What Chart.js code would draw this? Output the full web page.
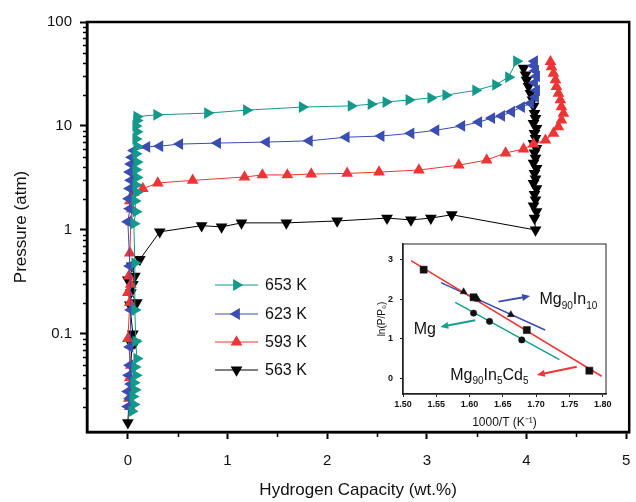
<!DOCTYPE html>
<html>
<head>
<meta charset="utf-8">
<script src="https://cdn.jsdelivr.net/npm/chart.js@4.4.1/dist/chart.umd.min.js"></script>
<style>
body { margin: 0; background: #fff; }
#wrap { position: relative; width: 636px; height: 502px; }
#main { position: absolute; left: 0; top: 0; }
#inset { position: absolute; left: 370px; top: 234px; }
</style>
</head>
<body>
<div id="wrap">
  <canvas id="main" width="636" height="502"></canvas>
  <canvas id="inset" width="245" height="202"></canvas>
</div>
<script>
// ---- main PCT curves ----
var seriesNames = ["653 K", "623 K", "593 K", "563 K"];
var colors = ["#12998a", "#3a4db0", "#ee3434", "#000000"];
var rotations = [90, -90, 0, 180];

var cap653 = [0.04,0.06,0.05,0.07,0.06,0.08,0.07,0.09,0.08,0.07,0.07,0.06,0.08,0.07,0.09,0.08,0.09,0.08,0.09,0.08,0.09,0.08,0.09,0.08,0.09,0.09,
              0.29,0.80,1.19,1.75,2.24,2.44,2.59,2.82,3.04,3.19,3.49,3.69,3.82,3.90];
var p653 = [0.018,0.021,0.025,0.029,0.034,0.04,0.048,0.058,0.085,0.17,0.48,1.15,1.5,1.9,2.3,2.7,3.2,3.8,4.5,5.4,6.4,7.5,8.8,10,11.3,12.3,
            12.8,13.3,14.2,15.2,15.6,16.2,17.0,17.8,18.6,19.8,22.0,24.9,29.5,42];

var cap623 = [0.0,0.02,0.0,0.03,0.01,0.02,0.02,0.03,0.02,0.0,0.02,0.01,0.02,0.03,0.02,0.03,0.04,0.06,
              0.19,0.32,0.52,0.90,1.39,1.82,2.19,2.54,2.84,3.09,3.35,3.52,3.65,3.75,3.85,3.95,4.04,
              4.09,4.10,4.08,4.10,4.09,4.07,4.08];
var p623 = [0.02,0.024,0.028,0.033,0.04,0.05,0.075,0.17,0.45,1.2,1.6,2.0,2.5,3.0,3.6,4.3,5.0,5.8,
            6.3,6.4,6.7,6.85,7.0,7.2,7.8,8.0,8.5,9.1,10.0,10.9,11.9,12.5,13.7,15.2,16.5,
            19,22,26,30,34,38,42];

var cap593 = [0.02,0.01,0.03,0.02,0.03,0.0,0.02,0.0,0.03,0.01,0.02,0.03,0.04,0.02,0.06,
              0.15,0.30,0.65,1.17,1.35,1.60,1.84,2.20,2.52,2.92,3.32,3.60,3.79,3.97,4.07,
              4.19,4.27,4.32,4.35,4.37,4.35,4.34,4.32,4.30,4.29,4.27,4.25,4.24];
var p593 = [0.02,0.024,0.03,0.038,0.05,0.09,0.2,0.25,0.3,0.36,0.6,1.2,1.6,1.9,2.3,
            2.5,2.83,3.0,3.23,3.38,3.38,3.45,3.5,3.6,3.77,4.2,4.7,5.5,6.0,6.7,
            7.3,8.5,9.8,11.4,13.2,15.3,17.8,20.6,23.9,27.7,32,37,41.5];

var cap563 = [0.0,0.04,0.07,0.05,0.02,0.09,0.03,0.05,0.0,0.07,0.04,0.12,
              0.32,0.74,0.94,1.14,1.59,2.10,2.60,2.84,3.04,3.25,4.09,
              4.08,4.10,4.07,4.09,4.08,4.10,4.07,4.09,4.08,4.10,4.07,4.09,4.08,4.10,4.07,4.09,4.08,4.10,4.07,4.09,4.08,4.07,4.06,4.04,4.02,4.0,3.99,3.97];
var p563 = [0.014,0.078,0.082,0.1,0.19,0.2,0.25,0.3,0.33,0.36,0.45,0.52,
            0.96,1.1,1.07,1.17,1.17,1.22,1.3,1.25,1.3,1.4,1.0,
            1.3,1.5,1.7,1.95,2.2,2.5,2.8,3.1,3.5,3.9,4.4,4.9,5.5,6.1,6.8,7.6,8.5,9.5,10.6,11.8,13.2,15.5,17.8,20.6,24,27.6,31,36];

var xTickLabels = [0, 1, 2, 3, 4, 5];
var yTickValues = [0.1, 1, 10, 100];

// ---- inset: ln(P/P0) vs 1000/T ----
var cdX = [1.531, 1.606, 1.686, 1.78];
var cdY = [2.75, 2.05, 1.22, 0.19];
var inX = [1.591, 1.612, 1.662];
var inY = [2.19, 2.0, 1.61];
var mgX = [1.606, 1.63, 1.6785];
var mgY = [1.65, 1.44, 0.97];
var cdFitX = [1.512, 1.7985], cdFitY = [2.98, 0.05];
var inFitX = [1.557, 1.7135], inFitY = [2.42, 1.22];
var mgFitX = [1.5785, 1.735], mgFitY = [1.92, 0.47];
var insetXTicks = [1.50, 1.55, 1.60, 1.65, 1.70, 1.75, 1.80];
var insetYTicks = [0, 1, 2, 3];

var FONT = "'Liberation Sans', Arial, sans-serif";

function pairs(xs, ys) {
    var out = [];
    for (var i = 0; i < xs.length; i++) out.push({x: xs[i], y: ys[i]});
    return out;
}
// keep the plot area where it was asked to be (no extra room for end labels)
function noPad(s) { s.paddingLeft = 0; s.paddingRight = 0; s.paddingTop = 0; s.paddingBottom = 0; }

var mainData = [pairs(cap653, p653), pairs(cap623, p623), pairs(cap593, p593), pairs(cap563, p563)];
var datasets = [];
for (var i = 0; i < mainData.length; i++) {
    datasets.push({
        label: seriesNames[i],
        data: mainData[i],
        showLine: true,
        borderColor: colors[i],
        backgroundColor: colors[i],
        borderWidth: 1,
        pointStyle: 'triangle',
        pointRotation: rotations[i],
        pointRadius: 6.8,
        pointBorderWidth: 0,
        tension: 0,
        clip: false
    });
}

var mainDecor = {
    id: 'mainDecor',
    afterDraw: function(chart) {
        var ctx = chart.ctx, a = chart.chartArea;
        var xs = chart.scales.x, ys = chart.scales.y;
        ctx.save();
        // minor ticks
        ctx.strokeStyle = '#000';
        ctx.lineWidth = 1.5;
        ctx.beginPath();
        [0.01, 0.1, 1, 10].forEach(function(d) {
            for (var m = 2; m <= 9; m++) {
                var v = m * d;
                if (v < ys.min || v > ys.max) continue;
                var py = Math.round(ys.getPixelForValue(v)) + 0.5;
                ctx.moveTo(a.left - 4, py); ctx.lineTo(a.left, py);
            }
        });
        [0.5, 1.5, 2.5, 3.5, 4.5].forEach(function(v) {
            var px = Math.round(xs.getPixelForValue(v)) + 0.5;
            ctx.moveTo(px, a.bottom); ctx.lineTo(px, a.bottom + 5);
        });
        ctx.stroke();
        // frame
        ctx.lineWidth = 2.5;
        ctx.strokeRect(a.left, a.top, a.right - a.left, a.bottom - a.top);
        // legend
        var ly = [285, 314, 342, 370];
        ctx.font = '16px ' + FONT;
        ctx.textBaseline = 'middle';
        ctx.textAlign = 'left';
        for (var i = 0; i < seriesNames.length; i++) {
            ctx.strokeStyle = colors[i];
            ctx.lineWidth = 1;
            ctx.beginPath();
            ctx.moveTo(215, ly[i]); ctx.lineTo(258, ly[i]);
            ctx.stroke();
            ctx.fillStyle = colors[i];
            Chart.helpers.drawPoint(ctx, {pointStyle: 'triangle', rotation: rotations[i], radius: 6.8, borderWidth: 0}, 236.5, ly[i]);
            ctx.fillStyle = '#111';
            ctx.fillText(seriesNames[i], 265, ly[i] + 1);
        }
        ctx.restore();
    }
};

new Chart(document.getElementById('main'), {
    type: 'scatter',
    data: {datasets: datasets},
    plugins: [mainDecor],
    options: {
        responsive: false,
        animation: false,
        events: [],
        layout: {padding: {top: 22, right: 4, left: 0, bottom: 0}},
        plugins: {legend: {display: false}, tooltip: {enabled: false}},
        scales: {
            x: {
                type: 'linear', min: -0.41, max: 5.03,
                afterFit: function(s) { s.height = 70; noPad(s); },
                afterBuildTicks: function(s) { s.ticks = xTickLabels.map(function(v) { return {value: v}; }); },
                ticks: {color: '#111', padding: 13, maxRotation: 0, font: {family: FONT, size: 15}},
                grid: {drawOnChartArea: false, tickLength: 7, tickWidth: 2, tickColor: '#000'},
                border: {color: '#000', width: 2.5},
                title: {display: true, text: 'Hydrogen Capacity (wt.%)', color: '#111',
                        font: {family: FONT, size: 17}, padding: {top: 0, bottom: 1}}
            },
            y: {
                type: 'logarithmic', min: 0.0114, max: 100,
                afterFit: function(s) { s.width = 87; noPad(s); },
                afterBuildTicks: function(s) { s.ticks = yTickValues.map(function(v) { return {value: v}; }); },
                ticks: {color: '#111', padding: 8, font: {family: FONT, size: 15},
                        callback: function(v) { return String(v); }},
                grid: {drawOnChartArea: false, tickLength: 7, tickWidth: 2, tickColor: '#000'},
                border: {color: '#000', width: 2.5},
                title: {display: true, text: 'Pressure (atm)', color: '#111',
                        font: {family: FONT, size: 17}, padding: {top: 11, bottom: 0}}
            }
        }
    }
});

// ---- inset ----
var arrows = [
    {from: [1.6435, 1.94], to: [1.691, 2.08], color: '#3a4db0'},
    {from: [1.6085, 1.47], to: [1.556, 1.30], color: '#16a08c'},
    {from: [1.761, 0.29], to: [1.701, 0.08], color: '#ee3434'}
];
var labels = [
    {at: [1.516, 1.22], parts: [['Mg', 0]]},
    {at: [1.705, 1.98], parts: [['Mg', 0], ['90', 1], ['In', 0], ['10', 1]]},
    {at: [1.571, 0.07], parts: [['Mg', 0], ['90', 1], ['In', 0], ['5', 1], ['Cd', 0], ['5', 1]]}
];

var insetDecor = {
    id: 'insetDecor',
    afterDraw: function(chart) {
        var ctx = chart.ctx, a = chart.chartArea;
        var xs = chart.scales.x, ys = chart.scales.y;
        ctx.save();
        ctx.strokeStyle = '#222';
        ctx.lineWidth = 1;
        ctx.strokeRect(a.left, a.top, a.right - a.left, a.bottom - a.top);
        arrows.forEach(function(ar) {
            var x0 = xs.getPixelForValue(ar.from[0]), y0 = ys.getPixelForValue(ar.from[1]);
            var x1 = xs.getPixelForValue(ar.to[0]), y1 = ys.getPixelForValue(ar.to[1]);
            var ang = Math.atan2(y1 - y0, x1 - x0);
            ctx.strokeStyle = ar.color;
            ctx.fillStyle = ar.color;
            ctx.lineWidth = 2;
            ctx.beginPath();
            ctx.moveTo(x0, y0);
            ctx.lineTo(x1 - 5 * Math.cos(ang), y1 - 5 * Math.sin(ang));
            ctx.stroke();
            ctx.beginPath();
            ctx.moveTo(x1, y1);
            ctx.lineTo(x1 - 8 * Math.cos(ang) + 3.5 * Math.sin(ang), y1 - 8 * Math.sin(ang) - 3.5 * Math.cos(ang));
            ctx.lineTo(x1 - 8 * Math.cos(ang) - 3.5 * Math.sin(ang), y1 - 8 * Math.sin(ang) + 3.5 * Math.cos(ang));
            ctx.closePath();
            ctx.fill();
        });
        ctx.fillStyle = '#111';
        ctx.textBaseline = 'middle';
        ctx.textAlign = 'left';
        labels.forEach(function(lb) {
            var px = xs.getPixelForValue(lb.at[0]), py = ys.getPixelForValue(lb.at[1]);
            lb.parts.forEach(function(p) {
                ctx.font = (p[1] ? '10px ' : '16px ') + FONT;
                ctx.fillText(p[0], px, py + (p[1] ? 6 : 0));
                px += ctx.measureText(p[0]).width;
            });
        });
        ctx.restore();
    }
};

function fitLine(xs, ys, color) {
    return {data: pairs(xs, ys), showLine: true, borderColor: color, borderWidth: 1.5, pointRadius: 0, tension: 0};
}
function marks(xs, ys, style, r) {
    return {data: pairs(xs, ys), showLine: false, pointStyle: style, pointRadius: r,
            backgroundColor: '#111', borderColor: '#111', pointBorderWidth: 0.5};
}

new Chart(document.getElementById('inset'), {
    type: 'scatter',
    data: {datasets: [
        marks(cdX, cdY, 'rect', 5),
        marks(inX, inY, 'triangle', 4),
        marks(mgX, mgY, 'circle', 3.2),
        fitLine(cdFitX, cdFitY, '#ee3434'),
        fitLine(inFitX, inFitY, '#3a4db0'),
        fitLine(mgFitX, mgFitY, '#16a08c')
    ]},
    plugins: [insetDecor],
    options: {
        responsive: false,
        animation: false,
        events: [],
        layout: {padding: {top: 10, right: 9, left: 0, bottom: 0}},
        plugins: {legend: {display: false}, tooltip: {enabled: false}},
        scales: {
            x: {
                type: 'linear', min: 1.5, max: 1.805,
                afterFit: function(s) { s.height = 42; noPad(s); },
                afterBuildTicks: function(s) { s.ticks = insetXTicks.map(function(v) { return {value: v}; }); },
                ticks: {color: '#111', padding: 2, maxRotation: 0, font: {family: FONT, size: 9, weight: 'bold'},
                        callback: function(v) { return v.toFixed(2); }},
                grid: {drawOnChartArea: false, tickLength: 3, tickWidth: 1, tickColor: '#222'},
                border: {color: '#222', width: 1.5},
                title: {display: true, text: '1000/T (K\u207B\u00B9)', color: '#111',
                        font: {family: FONT, size: 12}, padding: {top: 0, bottom: 6}}
            },
            y: {
                type: 'linear', min: -0.4, max: 3.4,
                afterFit: function(s) { s.width = 33; noPad(s); },
                afterBuildTicks: function(s) { s.ticks = insetYTicks.map(function(v) { return {value: v}; }); },
                ticks: {color: '#111', padding: 7, font: {family: FONT, size: 9, weight: 'bold'}},
                grid: {drawOnChartArea: false, tickLength: 3, tickWidth: 1, tickColor: '#222'},
                border: {color: '#222', width: 1.5},
                title: {display: true, text: 'ln(P/P\u2080)', color: '#111',
                        font: {family: FONT, size: 10}, padding: {top: 6, bottom: 0}}
            }
        }
    }
});
</script>
</body>
</html>
